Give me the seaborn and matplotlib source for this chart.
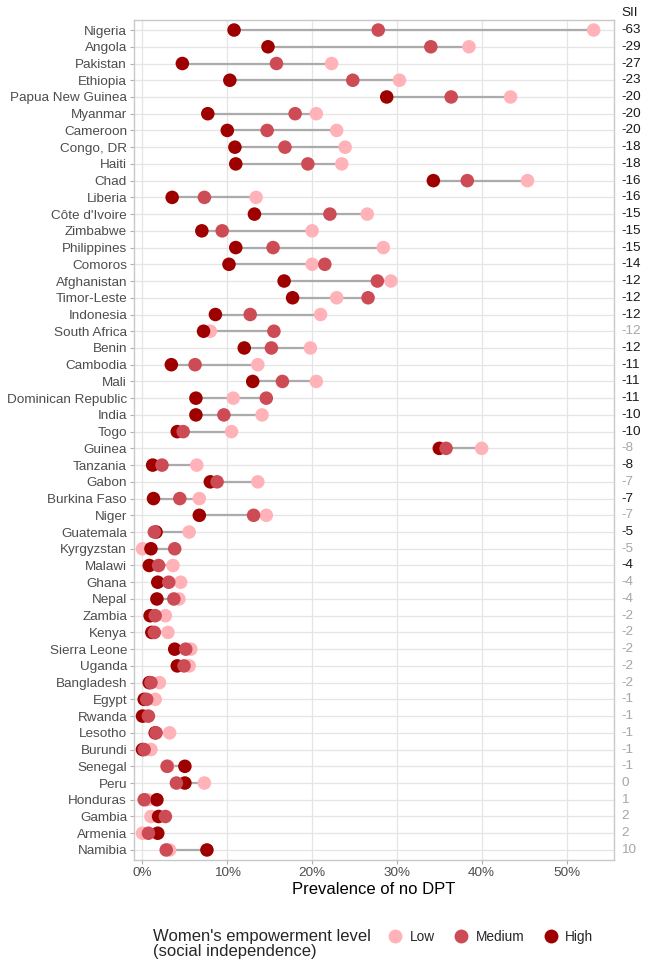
import pandas as pd
import matplotlib.pyplot as plt
import seaborn as sns
from matplotlib.lines import Line2D
from matplotlib.transforms import blended_transform_factory

# -------------------------------
# Data (prevalence of no DPT, %)
# -------------------------------
countries = [
    "Nigeria", "Angola", "Pakistan", "Ethiopia", "Papua New Guinea", "Myanmar",
    "Cameroon", "Congo, DR", "Haiti", "Chad", "Liberia", "Côte d'Ivoire",
    "Zimbabwe", "Philippines", "Comoros", "Afghanistan", "Timor-Leste",
    "Indonesia", "South Africa", "Benin", "Cambodia", "Mali",
    "Dominican Republic", "India", "Togo", "Guinea", "Tanzania", "Gabon",
    "Burkina Faso", "Niger", "Guatemala", "Kyrgyzstan", "Malawi", "Ghana",
    "Nepal", "Zambia", "Kenya", "Sierra Leone", "Uganda", "Bangladesh",
    "Egypt", "Rwanda", "Lesotho", "Burundi", "Senegal", "Peru", "Honduras",
    "Gambia", "Armenia", "Namibia",
]

low = [53.2, 38.5, 22.3, 30.3, 43.4, 20.5, 22.9, 23.9, 23.5, 45.4, 13.4, 26.5,
       20.0, 28.4, 20.0, 29.3, 22.9, 21.0, 8.0, 19.8, 13.6, 20.5, 10.7, 14.1,
       10.5, 40.0, 6.4, 13.6, 6.7, 14.6, 5.5, 0.0, 3.6, 4.5, 4.3, 2.7, 3.0,
       5.7, 5.5, 2.0, 1.5, 0.4, 3.2, 1.0, 3.0, 7.3, 0.6, 1.0, 0.0, 3.2]

medium = [27.8, 34.0, 15.8, 24.8, 36.4, 18.0, 14.7, 16.8, 19.5, 38.3, 7.3, 22.1,
          9.4, 15.4, 21.5, 27.7, 26.6, 12.7, 15.5, 15.2, 6.2, 16.5, 14.6, 9.6,
          4.8, 35.8, 2.3, 8.8, 4.4, 13.1, 1.4, 3.8, 1.9, 3.1, 3.7, 1.5, 1.4,
          5.1, 4.9, 1.0, 0.5, 0.7, 1.6, 0.2, 2.9, 4.0, 0.2, 2.7, 0.7, 2.8]

high = [10.8, 14.8, 4.7, 10.3, 28.8, 7.7, 10.0, 10.9, 11.0, 34.3, 3.5, 13.2,
        7.0, 11.0, 10.2, 16.7, 17.7, 8.6, 7.2, 12.0, 3.4, 13.0, 6.3, 6.3,
        4.1, 35.0, 1.2, 8.0, 1.3, 6.7, 1.6, 1.0, 0.8, 1.8, 1.7, 0.9, 1.1,
        3.8, 4.1, 0.8, 0.2, 0.0, 1.5, 0.0, 5.0, 5.0, 1.7, 1.9, 1.8, 7.6]

sii = [-63, -29, -27, -23, -20, -20, -20, -18, -18, -16, -16, -15, -15, -15,
       -14, -12, -12, -12, -12, -12, -11, -11, -11, -10, -10, -8, -8, -7, -7,
       -7, -5, -5, -4, -4, -4, -2, -2, -2, -2, -2, -1, -1, -1, -1, -1, 0, 1,
       2, 2, 10]

# significant SII shown in black, others in grey
sii_sig = [True] * 18 + [False, True, True, True, True, True, True, False,
           True, False, True, False, True, False, True, False, False] + [False] * 17

levels = ["Low", "Medium", "High"]
colors = {"Low": "#FFB3B8", "Medium": "#CD4B55", "High": "#9E0000"}

# long format table
wide = pd.DataFrame({"country": countries, "Low": low, "Medium": medium, "High": high})
df = wide.melt(id_vars="country", value_vars=["Low", "High", "Medium"],
               var_name="level", value_name="value")
df["level"] = pd.Categorical(df["level"], categories=levels)

sns.set_style("whitegrid")
plt.rcParams["font.family"] = ["Liberation Sans", "DejaVu Sans"]

fig = plt.figure(figsize=(6.49, 9.74), dpi=100)
ax = fig.add_axes([134 / 649, 1 - 860 / 974, (614 - 134) / 649, (860 - 20) / 974])

# grey range line per country
ax.hlines(wide["country"], wide[levels].min(axis=1), wide[levels].max(axis=1),
          color="#ABABAB", lw=1.6, zorder=2)

sns.scatterplot(data=df, x="value", y="country", hue="level", palette=colors,
                s=95, linewidth=0, legend=False, ax=ax, zorder=3)

ax.set_ylim(len(countries) - 0.4, -0.6)
ax.set_xlim(-1.0, 55.6)
ax.set_xticks([0, 10, 20, 30, 40, 50])
ax.set_xticklabels([f"{t}%" for t in [0, 10, 20, 30, 40, 50]])
ax.set_ylabel("")
ax.set_xlabel("Prevalence of no DPT", fontsize=12, color="black", labelpad=2)

ax.grid(True, color="#E5E5E5", lw=0.9)
ax.set_axisbelow(True)
for sp in ax.spines.values():
    sp.set_color("#C8C8C8")
    sp.set_linewidth(1.0)
ax.tick_params(axis="both", which="major", length=3, width=0.8, color="#B0B0B0",
               labelsize=9.7, labelcolor="#4D4D4D", pad=2)
ax.tick_params(axis="y", left=True)
ax.tick_params(axis="x", bottom=True)

# SII column on the right
trans = blended_transform_factory(ax.transAxes, ax.transData)
for i, (v, sig) in enumerate(zip(sii, sii_sig)):
    ax.text(1.015, i, str(v), transform=trans, ha="left", va="center",
            fontsize=9.7, color="#1A1A1A" if sig else "#A6A6A6")
ax.text(1.015, -1.0, "SII", transform=trans, ha="left", va="center",
        fontsize=9.7, color="#1A1A1A")

# legend at the bottom
fig.text(153 / 649, 1 - 944 / 974, "Women's empowerment level\n(social independence)",
         fontsize=12, ha="left", va="center", linespacing=1.05)
handles = [Line2D([], [], marker="o", ls="", markersize=10, markeredgewidth=0,
                  color=colors[lv]) for lv in levels]
fig.legend(handles, levels, loc="center left", bbox_to_anchor=(373 / 649, 1 - 937 / 974),
           ncol=3, frameon=False, fontsize=9.8, handletextpad=0.3, columnspacing=1.2,
           handlelength=1.5)

plt.savefig("out.png", dpi=100)
plt.close()
